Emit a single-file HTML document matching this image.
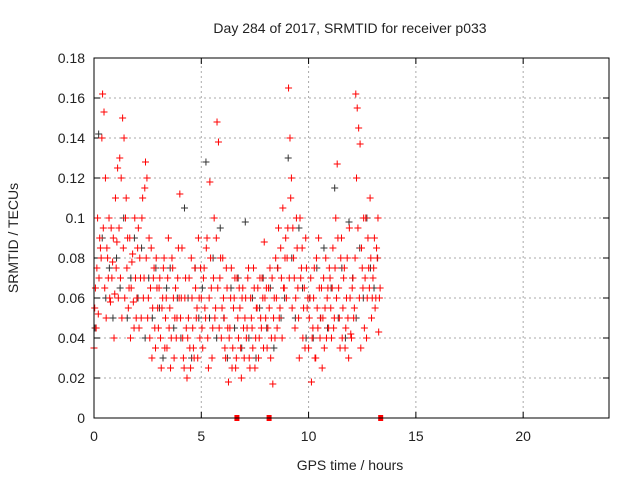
<!DOCTYPE html>
<html><head><meta charset="utf-8"><style>
body{margin:0;background:#fff;}
svg text{font-family:"Liberation Sans",sans-serif;font-size:14px;fill:#222;}
</style></head><body>
<svg id="chart" width="640" height="480" xmlns="http://www.w3.org/2000/svg">
<rect width="640" height="480" fill="#fff"/>
<text x="350" y="33" text-anchor="middle">Day 284 of 2017, SRMTID for receiver p033</text>
<text x="350" y="470" text-anchor="middle">GPS time / hours</text>
<text transform="translate(18,238) rotate(-90)" text-anchor="middle">SRMTID / TECUs</text>
<g id="grid"></g>
<g id="axes"></g>
<g id="black"></g>
<g id="red"></g>
<rect x="94" y="58" width="515" height="360" fill="none" stroke="#000" stroke-width="1"/>
</svg>
<script>
const xTicks=[0,5,10,15,20];
const yTicks=[0,0.02,0.04,0.06,0.08,0.1,0.12,0.14,0.16,0.18];
const yTickLabels=["0","0.02","0.04","0.06","0.08","0.1","0.12","0.14","0.16","0.18"];
// red series A: per-hour blocks, 15 samples per hour
const redA=[
[0.035,0.065,0.075,0.052,0.09,0.08,0.162,0.153,0.12,0.085,0.07,0.06,0.095,0.078,0.04],
[0.11,0.088,0.06,0.13,0.12,0.15,0.14,0.1,0.075,0.055,0.09,0.065,0.082,0.045,0.07],
[0.06,0.095,0.08,0.05,0.11,0.07,0.128,0.12,0.06,0.04,0.085,0.055,0.075,0.035,0.065],
[0.045,0.07,0.025,0.06,0.08,0.05,0.035,0.09,0.055,0.04,0.075,0.03,0.065,0.05,0.085],
[0.112,0.06,0.04,0.025,0.07,0.02,0.05,0.035,0.08,0.045,0.03,0.065,0.055,0.09,0.04],
[0.06,0.035,0.075,0.05,0.09,0.025,0.118,0.065,0.045,0.1,0.055,0.148,0.138,0.07,0.04],
[0.08,0.05,0.03,0.065,0.018,0.045,0.075,0.035,0.06,0.025,0.07,0.04,0.055,0.02,0.065],
[0.03,0.06,0.045,0.075,0.025,0.05,0.035,0.065,0.04,0.055,0.03,0.07,0.045,0.06,0.088],
[0.05,0.035,0.065,0.075,0.04,0.017,0.06,0.08,0.045,0.095,0.055,0.07,0.105,0.065,0.09],
[0.08,0.165,0.14,0.12,0.095,0.07,0.06,0.085,0.05,0.1,0.075,0.04,0.065,0.09,0.055],
[0.035,0.06,0.018,0.045,0.075,0.03,0.055,0.09,0.04,0.065,0.05,0.035,0.08,0.06,0.045],
[0.07,0.04,0.085,0.05,0.1,0.127,0.065,0.035,0.09,0.055,0.075,0.045,0.08,0.03,0.06],
[0.04,0.07,0.055,0.162,0.155,0.145,0.137,0.085,0.065,0.045,0.1,0.06,0.075,0.11,0.05],
[0.07,0.09,0.06,0.08,0.043,0.065]
];
// red series B: offset samples
const redB=[
[0.055,0.045,0.1,0.07,0.085,0.14,0.095,0.065,0.05,0.08,0.1,0.058,0.07,0.09,0.062],
[0.075,0.125,0.095,0.07,0.05,0.085,0.06,0.11,0.09,0.065,0.04,0.078,0.058,0.1,0.05],
[0.085,0.045,0.07,0.1,0.06,0.115,0.08,0.05,0.09,0.065,0.03,0.07,0.045,0.08,0.055],
[0.065,0.04,0.055,0.075,0.035,0.06,0.07,0.045,0.025,0.08,0.06,0.05,0.04,0.07,0.06],
[0.05,0.085,0.03,0.06,0.045,0.04,0.07,0.025,0.06,0.035,0.075,0.05,0.03,0.06,0.075],
[0.045,0.07,0.055,0.085,0.04,0.06,0.08,0.03,0.07,0.05,0.09,0.065,0.045,0.08,0.055],
[0.06,0.035,0.075,0.045,0.04,0.06,0.025,0.055,0.07,0.03,0.05,0.065,0.035,0.06,0.045],
[0.05,0.04,0.07,0.03,0.06,0.045,0.075,0.025,0.055,0.065,0.04,0.05,0.07,0.035,0.06],
[0.065,0.045,0.055,0.03,0.07,0.05,0.04,0.06,0.075,0.05,0.085,0.04,0.065,0.08,0.06],
[0.095,0.07,0.11,0.055,0.08,0.045,0.1,0.065,0.03,0.07,0.085,0.055,0.035,0.075,0.06],
[0.05,0.07,0.04,0.06,0.03,0.08,0.045,0.065,0.05,0.025,0.07,0.055,0.04,0.065,0.075],
[0.055,0.065,0.045,0.075,0.06,0.09,0.05,0.08,0.04,0.07,0.035,0.06,0.05,0.095,0.042],
[0.065,0.05,0.08,0.12,0.095,0.06,0.035,0.075,0.1,0.07,0.04,0.09,0.065,0.08,0.06],
[0.075,0.055,0.085,0.1,0.06]
];
// black series: 6 samples per hour
const blackS=[
[0.045,0.142,0.09,0.06,0.075,0.05],
[0.08,0.065,0.1,0.05,0.07,0.09],
[0.06,0.085,0.04,0.07,0.05,0.075],
[0.055,0.03,0.065,0.075,0.045,0.06],
[0.04,0.105,0.06,0.03,0.075,0.05],
[0.065,0.128,0.05,0.08,0.04,0.095],
[0.05,0.03,0.065,0.045,0.07,0.035],
[0.098,0.04,0.06,0.03,0.055,0.07],
[0.045,0.065,0.035,0.075,0.05,0.06],
[0.13,0.08,0.05,0.095,0.065,0.04],
[0.06,0.04,0.075,0.05,0.085,0.045],
[0.065,0.115,0.05,0.075,0.04,0.098],
[0.07,0.05,0.085,0.06,0.1,0.075],
[0.065,0.08]
];
const zeroTimes=[6.66,8.16,13.36];
const zeroValues=[0,0,0];

const NS="http://www.w3.org/2000/svg";
const X0=94,X1=609,Y0=418,Y1=58;
function xs(t){return X0+(t/24)*(X1-X0);}
function ys(v){return Y0-(v/0.18)*(Y0-Y1);}
function el(tag,attrs,parent){const e=document.createElementNS(NS,tag);for(const k in attrs)e.setAttribute(k,attrs[k]);parent.appendChild(e);return e;}
const grid=document.getElementById('grid'),axes=document.getElementById('axes');
yTicks.forEach((v,i)=>{
  const y=ys(v);
  if(i>0&&i<yTicks.length-1){const l=el('line',{x1:X0,x2:X1,y1:y,y2:y,stroke:'#aaa','stroke-dasharray':'2,3'},grid);
  
  }
  el('line',{x1:X0,x2:X0+6,y1:y,y2:y,stroke:'#000'},axes);
  el('line',{x1:X1,x2:X1-6,y1:y,y2:y,stroke:'#000'},axes);
  const t=el('text',{x:X0-9,y:y+5,'text-anchor':'end'},axes);t.textContent=yTickLabels[i];
  
  
});
xTicks.forEach(v=>{
  const x=xs(v);
  if(v>0){const l=el('line',{x1:x,x2:x,y1:Y0,y2:Y1,stroke:'#aaa','stroke-dasharray':'2,3'},grid);
  
  }
  el('line',{x1:x,x2:x,y1:Y0,y2:Y0-6,stroke:'#000'},axes);
  el('line',{x1:x,x2:x,y1:Y1,y2:Y1+6,stroke:'#000'},axes);
  const t=el('text',{x:x,y:Y0+23,'text-anchor':'middle'},axes);t.textContent=String(v);
  
  
});
function plus(g,t,v,color){
  const x=xs(t),y=ys(v);
  const p=el('path',{d:`M${x-3.5} ${y}H${x+3.5}M${x} ${y-3.5}V${y+3.5}`,stroke:color,'stroke-width':1,fill:'none'},g);
  
  
}
const gb=document.getElementById('black'),gr=document.getElementById('red');
blackS.forEach((blk,h)=>blk.forEach((v,i)=>plus(gb,h+(i+0.3)/6,v,'#333')));
redA.forEach((blk,h)=>blk.forEach((v,i)=>plus(gr,h+i/15,v,'#f00')));
redB.forEach((blk,h)=>blk.forEach((v,i)=>plus(gr,h+(i+0.5)/15,v,'#f00')));
zeroTimes.forEach((t,i)=>{const r=el('rect',{x:xs(t)-2.5,y:ys(zeroValues[i])-3,width:5,height:6,fill:'#f00'},gr);

});
</script>
</body></html>
